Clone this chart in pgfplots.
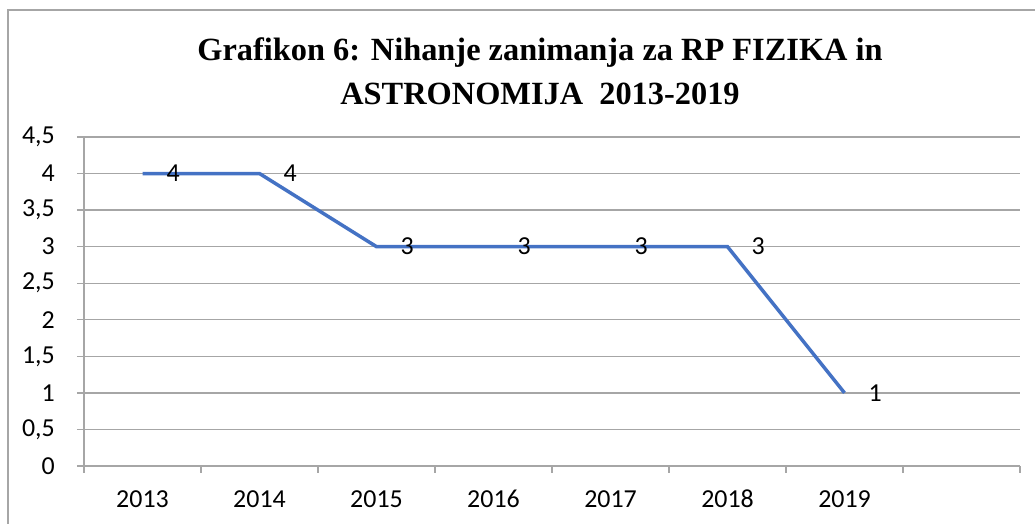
\documentclass[border=0pt]{standalone}
\usepackage{fontspec}
\setmainfont{Carlito}
\newfontfamily\titlefont{Liberation Serif}
\usepackage{pgfplots}
\pgfplotsset{compat=1.18}
\definecolor{lineblue}{HTML}{4472C4}
\definecolor{gridgray}{HTML}{A6A6A6}
\begin{document}
\begin{tikzpicture}[x=1bp,y=1bp]
\useasboundingbox (0,0) rectangle (1035,524);
% chart frame (only left and top edges are inside the picture)
\draw[gridgray, line width=1.2bp] (8,-5) -- (8,514) -- (1040,514);
\node[font=\titlefont\bfseries\fontsize{32.5}{44}\selectfont, align=center, anchor=north]
  at (540,490) {Grafikon 6: Nihanje zanimanja za RP FIZIKA in\\ASTRONOMIJA\ \ 2013-2019};
\begin{axis}[
    at={(84bp,58bp)}, anchor=south west,
    scale only axis,
    width=936bp, height=329bp,
    xmin=0, xmax=8,
    ymin=0, ymax=4.5,
    axis lines=left,
    axis line style={-, gridgray, line width=1.3bp},
    xtick={0,1,...,8},
    xticklabels={},
    extra x ticks={0.5,1.5,2.5,3.5,4.5,5.5,6.5},
    extra x tick labels={2013,2014,2015,2016,2017,2018,2019},
    extra x tick style={major tick length=0pt, grid=none,
        xticklabel style={anchor=base, yshift=-42bp}},
    ytick={0,0.5,...,4.5},
    tick align=outside,
    major tick length=7bp,
    tick style={gridgray, line width=1.3bp},
    ymajorgrids,
    grid style={gridgray, line width=1.3bp},
    tick label style={font=\fontsize{26}{30}\selectfont, text=black},
    every y tick label/.append style={anchor=east, inner sep=0pt, xshift=-22bp},
    /pgf/number format/use comma,
    /pgf/number format/assume math mode=true,
    nodes near coords,
    nodes near coords style={anchor=west, xshift=19bp,
        font=\fontsize{26}{30}\selectfont, text=black},
    clip=false,
]
\addplot[lineblue, line width=3.5bp] coordinates {
    (0.5,4) (1.5,4) (2.5,3) (3.5,3) (4.5,3) (5.5,3) (6.5,1)
};
\end{axis}
\end{tikzpicture}
\end{document}
